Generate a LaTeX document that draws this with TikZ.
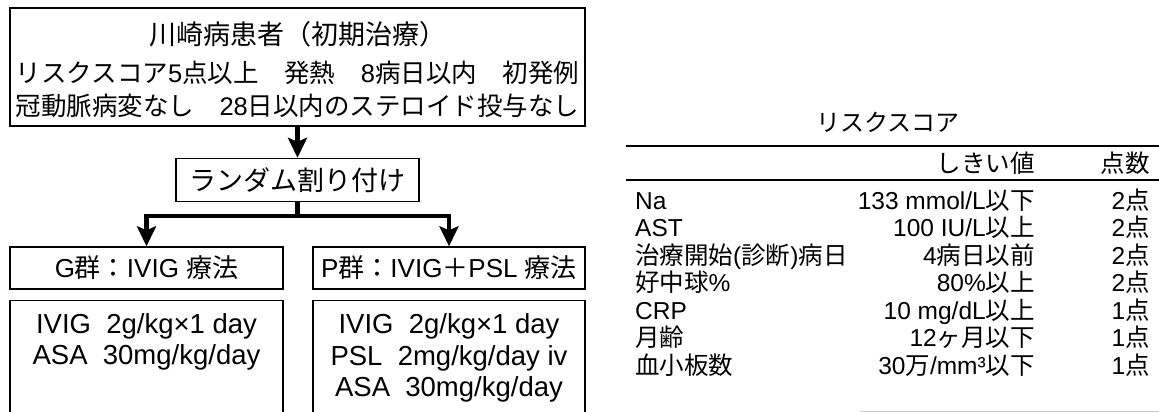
\documentclass[tikz,border=0pt]{standalone}
\usepackage{fontspec}
\setmainfont{Liberation Sans}
\newfontfamily\jpf{Noto Sans CJK JP}
\newcommand\jp[1]{{\jpf #1}}
\newcommand\fs[1]{\fontsize{#1}{#1}\selectfont}
\usetikzlibrary{arrows.meta}
\tikzset{
  box/.style={draw=black, line width=1.4pt, inner sep=0pt},
  bigarrow/.style={line width=4.5pt, line join=miter, -{Stealth[length=20pt,width=19pt,inset=4pt]}},
  bigline/.style={line width=4.5pt},
  txt/.style={inner sep=0pt, align=center},
  tlabel/.style={inner sep=0pt, anchor=base west, font=\fs{24.5}},
  tval/.style={inner sep=0pt, anchor=base east, font=\fs{24.5}},
  trule/.style={line width=1.6pt},
}
\begin{document}
\begin{tikzpicture}[x=1pt,y=-1pt]
\useasboundingbox (0,0) rectangle (1159,412);
\fill[white] (0,0) rectangle (1159,412);
\clip (0,0) rectangle (1159,412);

% top box
\node[box, minimum width=575pt, minimum height=118pt] (top) at (297.5,67) {};
\node[txt, font=\fs{27}] (t1) at (297.5,34) {\jp{川崎病患者（初期治療）}};
\node[txt, font=\fs{25.5}] (t2) at (297.5,73) {\jp{リスクスコア}5\jp{点以上　発熱　}8\jp{病日以内　初発例}};
\node[txt, font=\fs{25.5}] (t3) at (297.5,106) {\jp{冠動脈病変なし　}28\jp{日以内のステロイド投与なし}};

% random
\node[box, minimum width=243pt, minimum height=43pt, font=\fs{27}] (rand) at (297.5,180) {\jp{ランダム割り付け}};

% groups
\node[box, minimum width=273pt, minimum height=42pt, font=\fs{26}] (g) at (146.5,268) {G\jp{群：}IVIG \jp{療法}};
\node[box, minimum width=272pt, minimum height=42pt, font=\fs{26}] (p) at (449,268) {P\jp{群：}IVIG\jp{＋}PSL \jp{療法}};

% lower boxes
\node[box, minimum width=273pt, minimum height=140pt, anchor=north] (gl) at (146.5,300) {};
\node[box, minimum width=272pt, minimum height=140pt, anchor=north] (pl) at (449,300) {};
\node[txt, font=\fontsize{27.5}{31.5}\selectfont] (gtxt) at (146.5,342) {IVIG\ \ 2g/kg×1 day\\ASA\ \ 30mg/kg/day};
\node[txt, font=\fontsize{27.5}{31.5}\selectfont] (ptxt) at (449,358) {IVIG\ \ 2g/kg×1 day\\PSL\ \ 2mg/kg/day iv\\ASA\ \ 30mg/kg/day};

% arrows
\draw[bigarrow] (top.south) -- (rand.north);
\coordinate (j) at (297.5,216);
\draw[bigline] (rand.south) -- (j);
\draw[bigarrow] (j) -| (g.north);
\draw[bigarrow] (j) -| (p.north);

% table
\node[txt, font=\fs{24}] (ttitle) at (888,122) {\jp{リスクスコア}};
\coordinate (r1a) at (626,146); \coordinate (r1b) at (1159,146);
\coordinate (r2a) at (626,180); \coordinate (r2b) at (1159,180);
\draw[trule] (r1a) -- (r1b);
\draw[trule, line width=1.3pt] (r2a) -- (r2b);
\node[tval] (h1) at (1035,172) {\jp{しきい値}};
\node[tval] (h2) at (1150,172) {\jp{点数}};

\node[tlabel] (l1) at (635,209) {Na};
\node[tval]   (v1) at (1035,209) {133 mmol/L\jp{以下}};
\node[tval]   (s1) at (1150,209) {2\jp{点}};

\node[tlabel] (l2) at (635,236.5) {AST};
\node[tval]   (v2) at (1035,236.5) {100 IU/L\jp{以上}};
\node[tval]   (s2) at (1150,236.5) {2\jp{点}};

\node[tlabel] (l3) at (635,264) {\jp{治療開始}(\jp{診断})\jp{病日}};
\node[tval]   (v3) at (1035,264) {4\jp{病日以前}};
\node[tval]   (s3) at (1150,264) {2\jp{点}};

\node[tlabel] (l4) at (635,291.5) {\jp{好中球}\%};
\node[tval]   (v4) at (1035,291.5) {80\%\jp{以上}};
\node[tval]   (s4) at (1150,291.5) {2\jp{点}};

\node[tlabel] (l5) at (635,319) {CRP};
\node[tval]   (v5) at (1035,319) {10 mg/dL\jp{以上}};
\node[tval]   (s5) at (1150,319) {1\jp{点}};

\node[tlabel] (l6) at (635,346.5) {\jp{月齢}};
\node[tval]   (v6) at (1035,346.5) {12\jp{ヶ月以下}};
\node[tval]   (s6) at (1150,346.5) {1\jp{点}};

\node[tlabel] (l7) at (635,374) {\jp{血小板数}};
\node[tval]   (v7) at (1035,374) {30\jp{万}/mm³\jp{以下}};
\node[tval]   (s7) at (1150,374) {1\jp{点}};

\coordinate (r3a) at (860,411); \coordinate (r3b) at (1159,411);
\draw[gray!40, line width=1pt] (r3a) -- (r3b);
\end{tikzpicture}
\end{document}
